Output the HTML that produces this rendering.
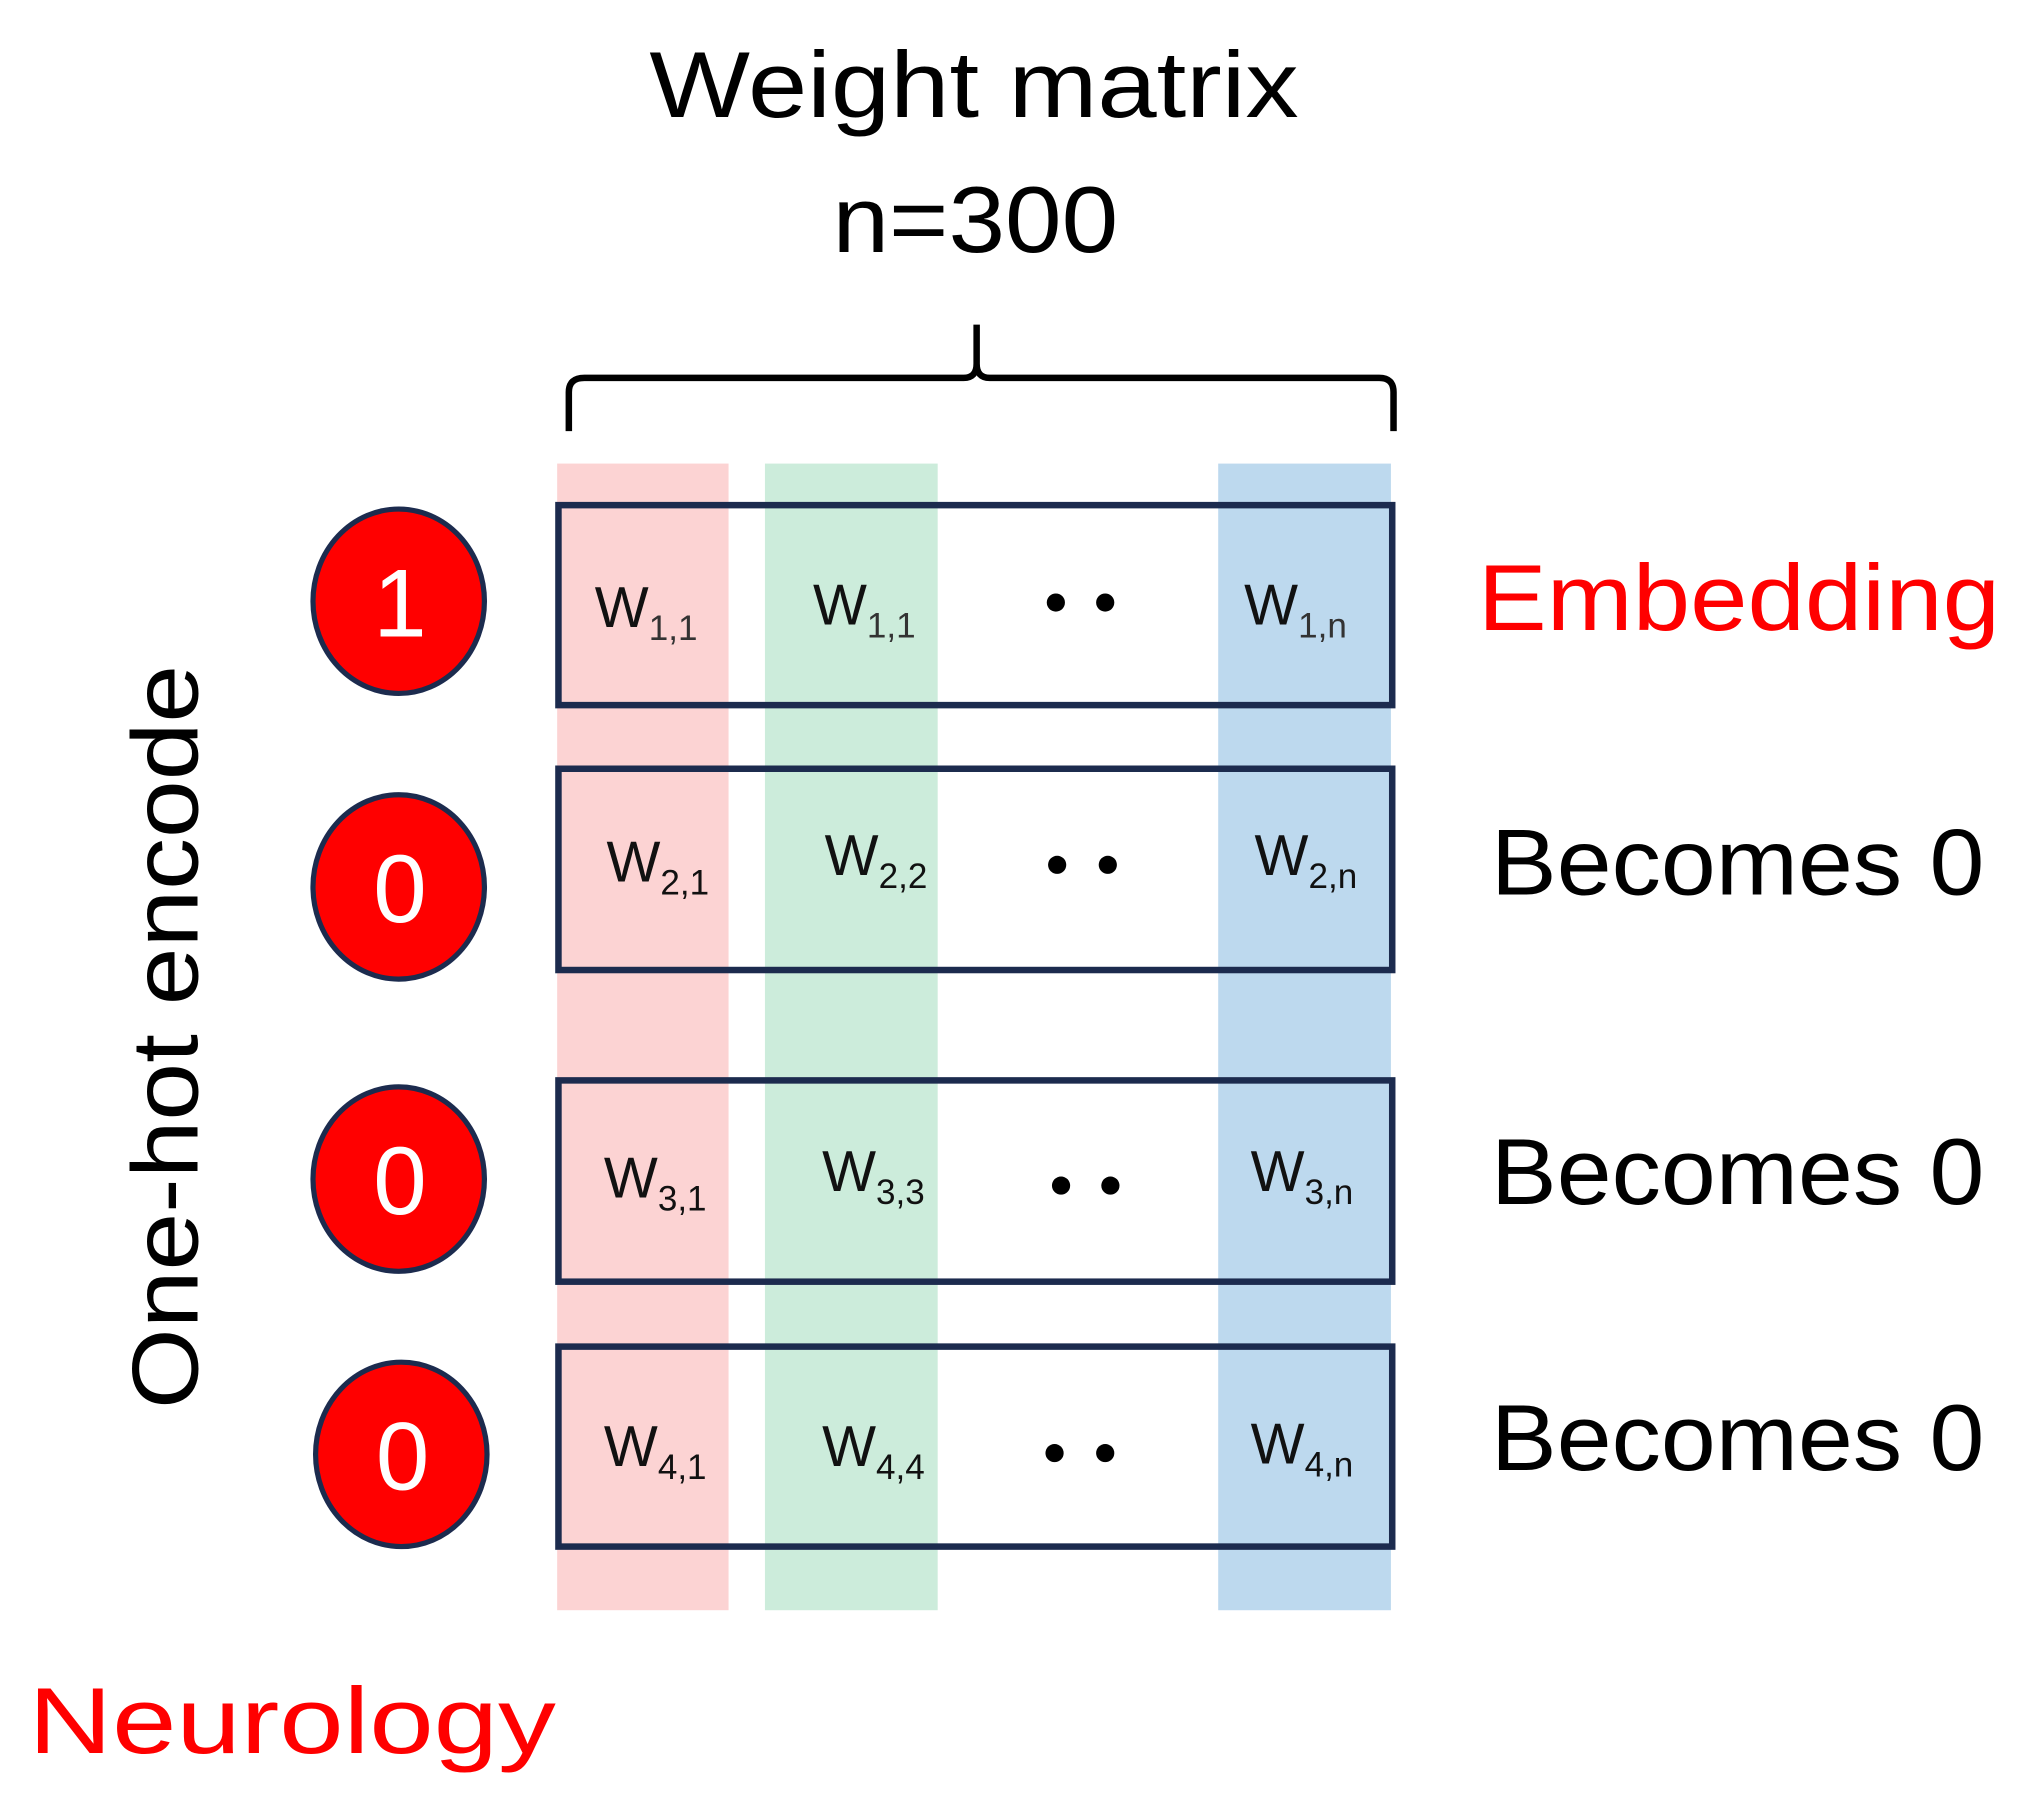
<!DOCTYPE html>
<html><head><meta charset="utf-8"><style>html,body{margin:0;padding:0;background:#fff}svg{display:block}</style></head>
<body>
<svg width="2026" height="1805" viewBox="0 0 1560 1390" preserveAspectRatio="none" xmlns="http://www.w3.org/2000/svg" font-family="Liberation Sans, sans-serif">
<rect width="1560" height="1390" fill="#fff"/>
<text x="500" y="90" font-size="72" textLength="500" lengthAdjust="spacingAndGlyphs">Weight matrix</text>
<text x="641" y="194" font-size="72" textLength="220" lengthAdjust="spacingAndGlyphs">n=300</text>
<path d="M438,332 L438,302 Q438,291 450,291 L742,291 Q752,291 752,280 L752,250 M752,250 L752,280 Q752,291 762,291 L1062,291 Q1073,291 1073,302 L1073,332" fill="none" stroke="#000" stroke-width="5"/>
<rect x="429" y="357" width="132" height="883" fill="#fcd3d3"/>
<rect x="589" y="357" width="133" height="883" fill="#ccecdb"/>
<rect x="938" y="357" width="133" height="883" fill="#bdd9ee"/>
<g fill="none" stroke="#1c2b4e" stroke-width="5">
<rect x="430" y="389" width="642" height="154"/>
<rect x="430" y="592" width="642" height="155"/>
<rect x="430" y="832" width="642" height="155"/>
<rect x="430" y="1037" width="642" height="154"/>
</g>
<g fill="#ff0000" stroke="#1c2b4e" stroke-width="4">
<ellipse cx="307" cy="463" rx="66" ry="71"/>
<ellipse cx="307" cy="683" rx="66" ry="71"/>
<ellipse cx="307" cy="908" rx="66" ry="71"/>
<ellipse cx="309" cy="1120" rx="66" ry="71"/>
</g>
<g fill="#fff" font-size="74" text-anchor="middle">
<text x="308" y="490">1</text>
<text x="308" y="710">0</text>
<text x="308" y="935">0</text>
<text x="310" y="1147">0</text>
</g>
<g font-size="44" fill="#111">
<text x="458" y="483">W<tspan font-size="27" dy="10" fill="#333">1,1</tspan></text>
<text x="626" y="481">W<tspan font-size="27" dy="10" fill="#333">1,1</tspan></text>
<text x="958" y="481">W<tspan font-size="27" dy="10" fill="#333">1,n</tspan></text>
<text x="467" y="679">W<tspan font-size="27" dy="10">2,1</tspan></text>
<text x="635" y="674">W<tspan font-size="27" dy="10">2,2</tspan></text>
<text x="966" y="674">W<tspan font-size="27" dy="10">2,n</tspan></text>
<text x="465" y="922">W<tspan font-size="27" dy="10">3,1</tspan></text>
<text x="633" y="917">W<tspan font-size="27" dy="10">3,3</tspan></text>
<text x="963" y="917">W<tspan font-size="27" dy="10">3,n</tspan></text>
<text x="465" y="1129">W<tspan font-size="27" dy="10">4,1</tspan></text>
<text x="633" y="1129">W<tspan font-size="27" dy="10">4,4</tspan></text>
<text x="963" y="1127">W<tspan font-size="27" dy="10">4,n</tspan></text>
</g>
<g fill="#000">
<circle cx="813" cy="464" r="7"/><circle cx="851" cy="464" r="7"/>
<circle cx="814" cy="666" r="7"/><circle cx="853" cy="666" r="7"/>
<circle cx="817" cy="913" r="7"/><circle cx="855" cy="913" r="7"/>
<circle cx="812" cy="1119" r="7"/><circle cx="851" cy="1119" r="7"/>
</g>
<text x="1138" y="485" font-size="72" fill="#ff0000" textLength="402" lengthAdjust="spacingAndGlyphs">Embedding</text>
<text x="1148" y="689" font-size="72" textLength="380" lengthAdjust="spacingAndGlyphs">Becomes 0</text>
<text x="1148" y="927" font-size="72" textLength="380" lengthAdjust="spacingAndGlyphs">Becomes 0</text>
<text x="1148" y="1132" font-size="72" textLength="380" lengthAdjust="spacingAndGlyphs">Becomes 0</text>
<text transform="translate(152,1085) rotate(-90)" font-size="72" textLength="573" lengthAdjust="spacingAndGlyphs">One-hot encode</text>
<text x="22" y="1350" font-size="72" fill="#ff0000" textLength="406" lengthAdjust="spacingAndGlyphs">Neurology</text>
</svg>
</body></html>
